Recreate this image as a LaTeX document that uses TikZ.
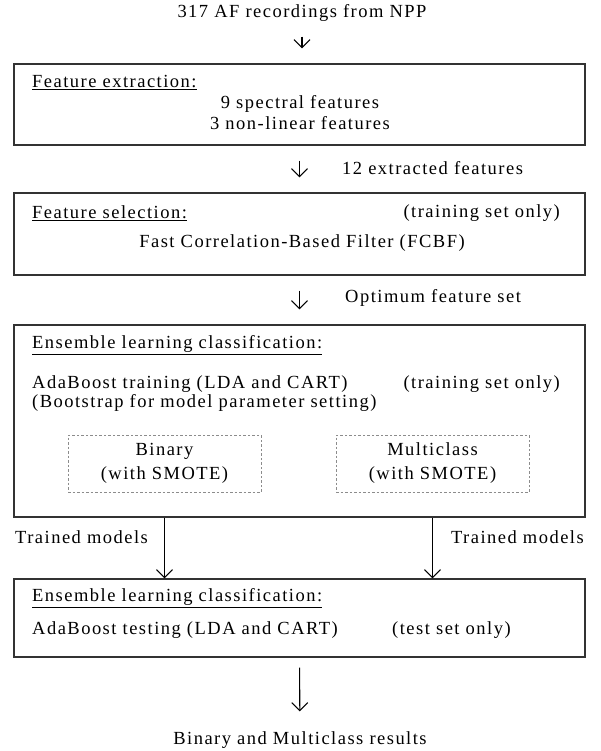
\documentclass[tikz,border=0pt]{standalone}
\usepackage{fontspec}
\setmainfont{Liberation Serif}[LetterSpace=8]
\usetikzlibrary{arrows.meta}

\tikzset{
  stage/.style={draw=black!80, line width=1.2pt, minimum width=571pt, inner sep=0pt},
  subbox/.style={draw=black!45, dash pattern=on 2.5pt off 2pt, line width=1pt,
                 minimum width=193pt, minimum height=57pt, align=center},
  flow/.style={-{Straight Barb[length=8pt,width=16pt]}, line width=1.1pt},
  gap/.style={shorten <=15pt, shorten >=15pt},
  lbl/.style={inner sep=0pt}
}

\begin{document}
\begin{tikzpicture}[x=1pt, y=-1pt, font=\fontsize{18.5}{21}\selectfont]
  \useasboundingbox (0,0) rectangle (601,751);

  % input
  \node[lbl] (source) at (302,13) {317 AF recordings from NPP};

  % feature extraction
  \node[stage, minimum height=81pt] (extract) at (299.5,104.5) {};
  \node[lbl, anchor=west] (extracthead) at (32,83) {\underline{Feature extraction:}};
  \node[lbl, align=center] (extractbody) at (300,113) {9 spectral features\\3 non-linear features};

  % feature selection
  \node[stage, minimum height=82pt] (select) at (299.5,234) {};
  \node[lbl, anchor=west] (selecthead) at (32,213) {\underline{Feature selection:}};
  \node[lbl, anchor=east] (selectset) at (560,213) {(training set only)};
  \node[lbl] (fcbf) at (302,243) {Fast Correlation-Based Filter (FCBF)};

  % training
  \node[stage, minimum height=192pt] (train) at (299.5,421) {};
  \node[lbl, anchor=west] (trainhead) at (32,345) {\underline{Ensemble learning classification:}};
  \node[lbl, anchor=west] (adatrain) at (32,384) {AdaBoost training (LDA and CART)};
  \node[lbl, anchor=east] (trainset) at (560,384) {(training set only)};
  \node[lbl, anchor=west] (bootstrap) at (32,403) {(Bootstrap for model parameter setting)};
  \node[subbox] (binary) at (164.5,463.5) {Binary\\[3pt](with SMOTE)};
  \node[subbox] (multi) at (432.5,463.5) {Multiclass\\[3pt](with SMOTE)};

  % testing
  \node[stage, minimum height=78pt] (test) at (299.5,618) {};
  \node[lbl, anchor=west] (testhead) at (32,598) {\underline{Ensemble learning classification:}};
  \node[lbl, anchor=west] (adatest) at (32,630) {AdaBoost testing (LDA and CART)};
  \node[lbl, anchor=west] (testset) at (392,630) {(test set only)};

  % output
  \node[lbl] (results) at (300,740) {Binary and Multiclass results};

  % connectors
  \draw[flow, gap] (source) -- (source |- extract.north);
  \draw[flow, gap] (extract.south) -- (select.north);
  \node[lbl, anchor=west] (extracted) at (342,168) {12 extracted features};
  \draw[flow, gap] (select.south) -- (train.north);
  \node[lbl, anchor=west] (optimum) at (345,298) {Optimum feature set};
  \draw[flow] (train.south -| binary) -- (test.north -| binary);
  \draw[flow] (train.south -| multi) -- (test.north -| multi);
  \node[lbl, anchor=west] (trainedl) at (15,537) {Trained models};
  \node[lbl, anchor=east] (trainedr) at (584,537) {Trained models};
  \draw[flow, shorten <=10pt, shorten >=20pt] (test.south) -- (results);
\end{tikzpicture}
\end{document}
